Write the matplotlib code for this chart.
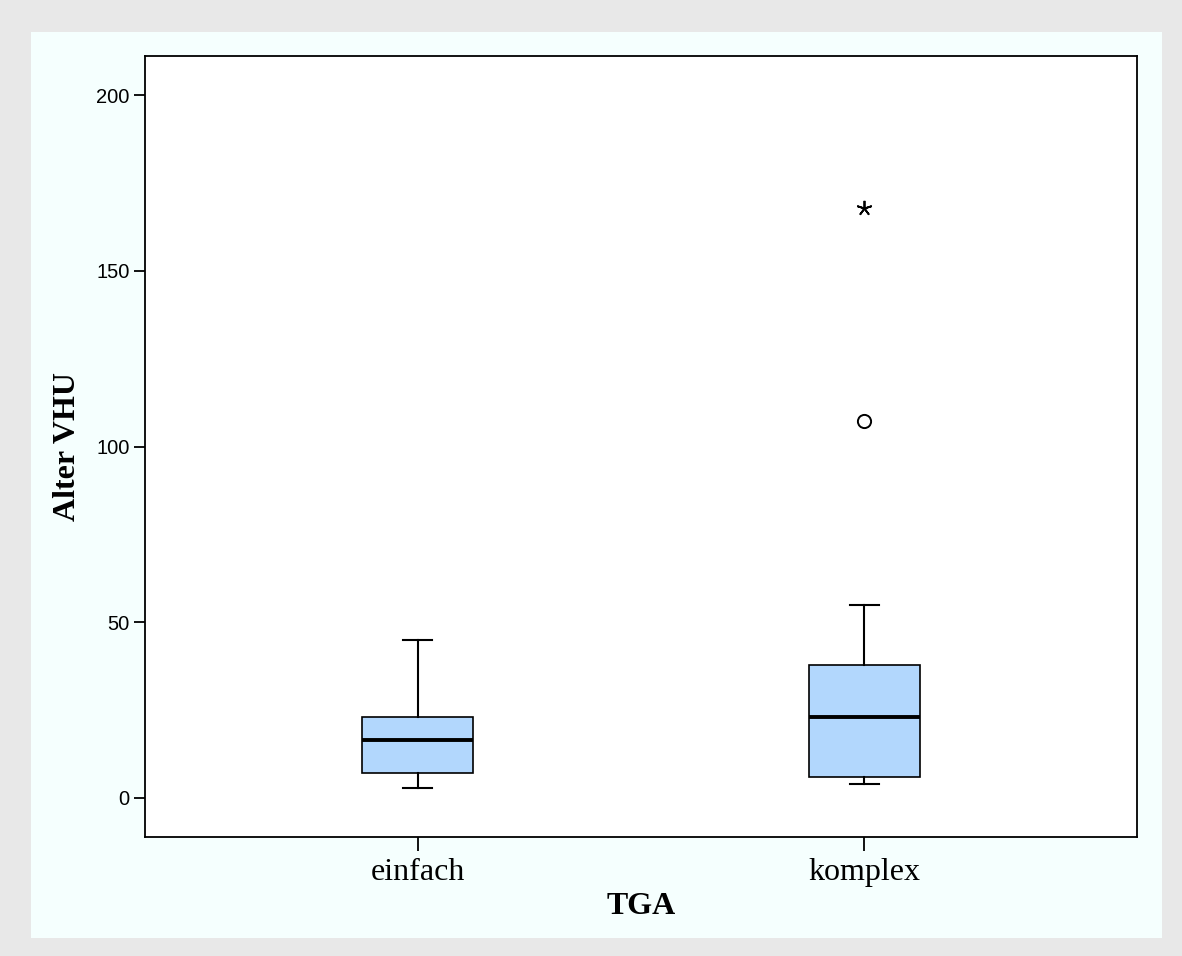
import matplotlib
matplotlib.use("Agg")
import matplotlib.pyplot as plt
from matplotlib.patches import Rectangle

# box statistics (SPSS style boxplot)
groups = ["einfach", "komplex"]
whisker_low = [2.8, 4.1]
q1 = [7.1, 6.1]
median = [16.5, 23.0]
q3 = [23.0, 37.9]
whisker_high = [45.0, 55.0]
outliers_circle = [[], [107.3]]
outliers_star = [[], [167.9]]

W, H = 1182, 956
fig = plt.figure(figsize=(W / 100, H / 100), dpi=100)
fig.patch.set_facecolor("#e8e8e8")
# light inner panel
fig.patches.append(Rectangle((31 / W, 18 / H), 1131 / W, 906 / H,
                             transform=fig.transFigure, facecolor="#f5fffe",
                             edgecolor="none", zorder=-5))

ax = fig.add_axes([145 / W, (H - 837) / H, (1137 - 145) / W, (837 - 56) / H])
ax.set_zorder(2)
ax.set_facecolor("white")

stats = []
for i, g in enumerate(groups):
    stats.append({"label": g, "whislo": whisker_low[i], "q1": q1[i], "med": median[i],
                  "q3": q3[i], "whishi": whisker_high[i], "fliers": []})

positions = [1, 2]
bp = ax.bxp(stats, positions=positions, widths=0.25, patch_artist=True, showfliers=False,
            boxprops=dict(facecolor="#b2d7fd", edgecolor="black", linewidth=1.2),
            medianprops=dict(color="black", linewidth=2.8),
            whiskerprops=dict(color="black", linewidth=1.5),
            capprops=dict(color="black", linewidth=1.5),
            capwidths=0.065)

for p, vals in zip(positions, outliers_circle):
    if vals:
        ax.plot([p] * len(vals), vals, linestyle="none", marker="o", markersize=9.5,
                markerfacecolor="none", markeredgecolor="black", markeredgewidth=1.4)
for p, vals in zip(positions, outliers_star):
    if vals:
        ax.plot([p] * len(vals), vals, linestyle="none", marker=(5, 2, 0), markersize=11,
                color="black", markeredgewidth=1.3)

ax.set_xlim(0.39, 2.61)
ax.set_ylim(-11.1, 211.1)
ax.set_yticks([0, 50, 100, 150, 200])
ax.set_xticks(positions)
ax.set_xticklabels(groups, family="Liberation Serif", fontsize=23)
for lab in ax.get_yticklabels():
    lab.set_family("Liberation Sans")
    lab.set_fontsize(14.5)
ax.tick_params(axis="y", direction="out", length=8, width=1.3, pad=3)
ax.tick_params(axis="x", direction="out", length=10, width=1.3, pad=5)
for s in ax.spines.values():
    s.set_linewidth(1.3)

ax.set_ylabel("Alter VHU", family="Liberation Serif", fontweight="bold", fontsize=23, labelpad=10)
ax.set_xlabel("TGA", family="Liberation Serif", fontweight="bold", fontsize=23, labelpad=4)

fig.savefig("out.png", dpi=100, facecolor=fig.get_facecolor())
